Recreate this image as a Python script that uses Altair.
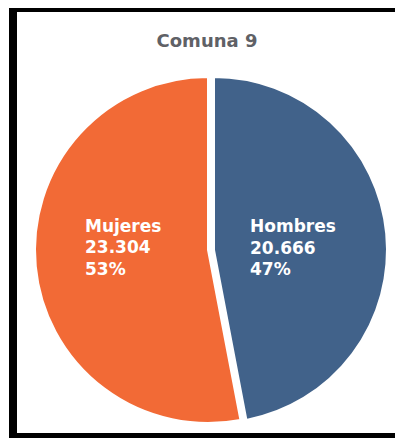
import math
import altair as alt
import pandas as pd

TITLE = "Comuna 9"
generos = ["Hombres", "Mujeres"]
valores = [20666, 23304]
orden = [0, 1]
colores = ["#41628A", "#F26A36"]

total = sum(valores)
df = pd.DataFrame({"genero": generos, "valor": valores, "orden": orden})

theta_scale = alt.Scale(domain=[0, total], range=[0, 2 * math.pi])
color_scale = alt.Scale(domain=generos, range=colores)

CX, CY, R = 200, 242, 173
W, H = 387, 430

base = alt.Chart(df).transform_window(
    fin="sum(valor)", sort=[alt.SortField("orden")], frame=[None, 0]
).transform_calculate(
    ini="datum.fin - datum.valor",
    mid="datum.fin - datum.valor / 2",
    label=("datum.genero + '\\n' + replace(format(datum.valor, ','), ',', '.')"
           f" + '\\n' + format(datum.valor / {total}, '.0%')"),
)


def arc_layer(name, xoff):
    return base.transform_filter(alt.datum.genero == name).mark_arc(
        outerRadius=R, xOffset=xoff, stroke="white", strokeWidth=2
    ).encode(
        theta=alt.Theta("ini:Q", scale=theta_scale, stack=False),
        theta2="fin:Q",
        color=alt.Color("genero:N", scale=color_scale, legend=None),
        x=alt.value(CX),
        y=alt.value(CY),
    )


def text_layer(name, dx, dy):
    return base.transform_filter(alt.datum.genero == name).mark_text(
        align="left", baseline="middle", font="DejaVu Sans", fontWeight="bold",
        fontSize=17, lineHeight=21.5, lineBreak="\n", color="white",
        radius=85, dx=dx, dy=dy,
    ).encode(
        theta=alt.Theta("mid:Q", scale=theta_scale, stack=False),
        text="label:N",
        x=alt.value(CX),
        y=alt.value(CY),
    )


title = alt.Chart(alt.Data(values=[{"t": TITLE}])).mark_text(
    align="center", baseline="alphabetic", font="DejaVu Sans", fontWeight="bold",
    fontSize=18, color="#5f6166",
).encode(text="t:N", x=alt.value(199), y=alt.value(39))

frame = alt.Chart(alt.Data(values=[{"a": 1}]))
left = frame.mark_rule(color="black", strokeWidth=8).encode(
    x=alt.value(5), y=alt.value(0), y2=alt.value(H))
top = frame.mark_rule(color="black", strokeWidth=8).encode(
    x=alt.value(1), x2=alt.value(W), y=alt.value(0))
bottom = frame.mark_rule(color="black", strokeWidth=8).encode(
    x=alt.value(1), x2=alt.value(W), y=alt.value(H - 1))

chart = alt.layer(
    arc_layer("Hombres", 6), arc_layer("Mujeres", 0),
    text_layer("Hombres", -42.6, -15), text_layer("Mujeres", -38.4, -31),
    title, left, top, bottom,
).properties(
    width=W, height=H, autosize=alt.AutoSizeParams(type="none"), padding=0,
    background="white",
).configure_view(strokeWidth=0)

chart.save("out.html", embed_options={"renderer": "svg", "actions": False})
